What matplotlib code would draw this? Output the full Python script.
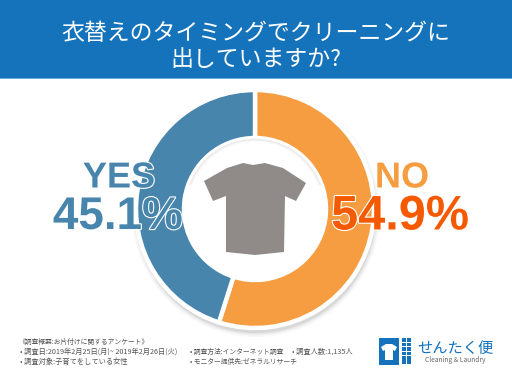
import matplotlib
matplotlib.use("Agg")
import matplotlib.pyplot as plt
import matplotlib.patheffects as pe
from matplotlib.patches import Rectangle, Polygon, Circle, Wedge

plt.rcParams['font.family'] = ['Noto Sans CJK JP', 'DejaVu Sans']

categories = ["NO", "YES"]
values = [54.9, 45.1]
colors = ["#F59D40", "#4785AC"]
pct_labels = ["54.9%", "45.1%"]
title_lines = ["衣替えのタイミングでクリーニングに", "出していますか?"]
footer_head = "《調査概要:お片付けに関するアンケート》"
footer_a = ["• 調査日:2019年2月25日(月)~ 2019年2月26日(火)", "• 調査対象:子育てをしている女性"]
footer_b = ["• 調査方法:インターネット調査", "• モニター提供先:ゼネラルリサーチ"]
footer_c = "• 調査人数:1,135人"

W, H = 512, 384
fig = plt.figure(figsize=(5.12, 3.84), dpi=100, facecolor="white")
ax = fig.add_axes([0, 0, 1, 1])

def Y(p):
    return H - p

CX, CY, R, R_IN = 255, Y(209), 119, 71

# soft outer shadow
for dr, a in [(5, 0.04), (3.5, 0.06), (2, 0.08), (1, 0.10)]:
    ax.add_patch(Circle((CX + 1, CY - 4), R + dr, color="#666666", alpha=a, lw=0, zorder=1))
ax.add_patch(Circle((CX, CY), R_IN, color="white", lw=0, zorder=1.5))

ax.pie(values, colors=colors, startangle=90, counterclock=False,
       center=(CX, CY), radius=R,
       wedgeprops=dict(width=R - R_IN, linewidth=3.2, edgecolor="white"), frame=True)
for p in ax.patches:
    if isinstance(p, Wedge):
        p.set_zorder(2)

# thin shadow just inside the hole
for dr, a in [(3.0, 0.03), (2.0, 0.04), (1.0, 0.05)]:
    ax.add_patch(Wedge((CX, CY), R_IN - 0.8, 20, 160, width=dr, color="#555555", alpha=a, lw=0, zorder=3))

# header
ax.add_patch(Rectangle((0, Y(78)), W, 78, color="#1573BC", lw=0, zorder=5))
ax.add_patch(Rectangle((0, Y(79)), W, 1.0, color="#6AAEE0", lw=0, zorder=5))
ax.text(256, Y(40.5), title_lines[0], color="white", fontsize=16.5, ha="center", va="baseline", zorder=6)
ax.text(256, Y(66.5), title_lines[1], color="white", fontsize=16.5, ha="center", va="baseline", zorder=6)

# T-shirt
shirt_px = [(204, 181), (227, 168), (243, 163), (253, 165), (265, 163), (283, 168),
            (306, 183), (296, 201), (285, 196), (284, 252), (255, 255), (226, 252),
            (226, 196), (213, 201)]
ax.add_patch(Polygon([(x, Y(y)) for x, y in shirt_px], closed=True, color="#908B88", lw=0, zorder=6))

# labels
halo = [pe.withStroke(linewidth=1.6, foreground="white")]
sans = ["Liberation Sans", "DejaVu Sans"]
ax.text(119, Y(178), categories[1], color=colors[1], fontsize=26, fontweight="bold", family=sans,
        ha="center", va="center", path_effects=halo, zorder=7)
ax.text(118, Y(217), pct_labels[1], color=colors[1], fontsize=33, fontweight="bold", family=sans,
        ha="center", va="center", path_effects=halo, zorder=7)
ax.text(402, Y(178), categories[0], color=colors[0], fontsize=26, fontweight="bold", family=sans,
        ha="center", va="center", path_effects=halo, zorder=7)
ax.text(400, Y(217), pct_labels[0], color="#F55A00", fontsize=35, fontweight="bold", family=sans,
        ha="center", va="center", path_effects=halo, zorder=7)

# footer
fc = "#555555"
fs = 5.2
ax.text(18, Y(344), footer_head, color=fc, fontsize=4.9, va="baseline", ha="left")
for i, y in enumerate([354, 364]):
    ax.text(20, Y(y), footer_a[i], color=fc, fontsize=fs, va="baseline", ha="left")
    ax.text(190, Y(y), footer_b[i], color=fc, fontsize=4.9, va="baseline", ha="left")
ax.text(292, Y(354), footer_c, color=fc, fontsize=fs, va="baseline", ha="left")

# logo
ax.add_patch(Rectangle((379, Y(364.5)), 19.5, 26.5, color="#1573BC", lw=0))
logo_shirt = [(381, 347), (386, 344), (392, 344), (397, 347), (395, 351), (393, 350), (393, 360), (385, 360), (385, 350), (383, 351)]
ax.add_patch(Polygon([(x, Y(y)) for x, y in logo_shirt], closed=True, color="white", lw=0))
for col in (402, 407):
    for r in range(6):
        ax.add_patch(Rectangle((col, Y(342 + r * 4.4)), 3.8, 3.6, color="#1573BC", lw=0))
ax.text(455, Y(348), "せんたく便", color="#1573BC", fontsize=11, ha="center", va="center")
ax.text(455, Y(360.5), "Cleaning & Laundry", color="#666666", fontsize=4.8, ha="center", va="center")

ax.set_xlim(0, W)
ax.set_ylim(0, H)
ax.set_aspect("auto")
ax.axis("off")
fig.savefig("out.png", dpi=100)
